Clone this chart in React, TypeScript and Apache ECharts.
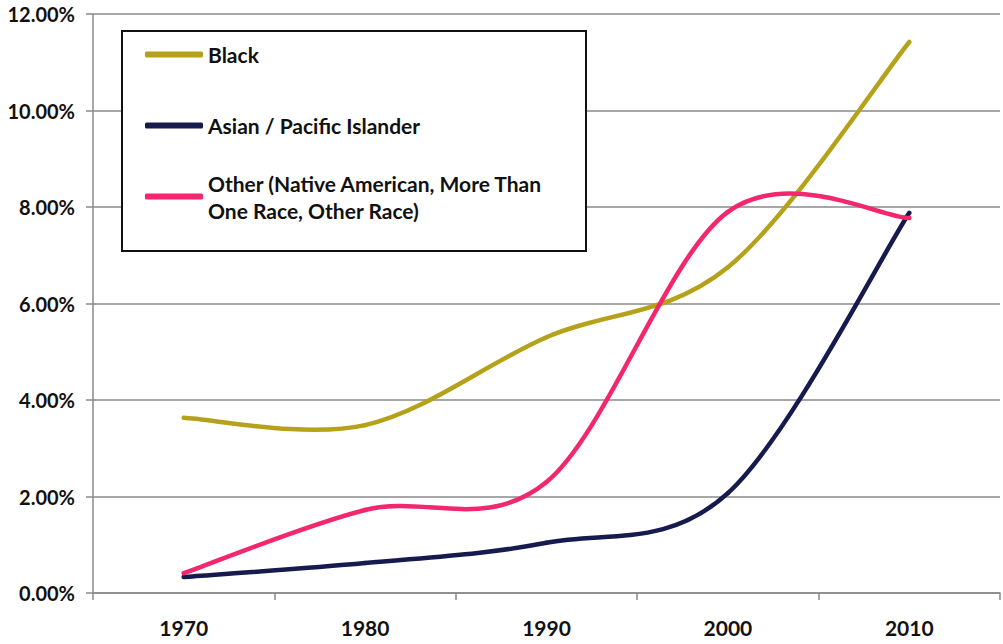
import React, { useEffect, useRef } from "react";
import * as echarts from "echarts";

const years = ["1970", "1980", "1990", "2000", "2010"];
const blackValues = [3.63, 3.48, 5.3, 6.75, 11.42];
const asianValues = [0.33, 0.62, 1.04, 2.07, 7.88];
const otherValues = [0.41, 1.72, 2.3, 7.9, 7.77];

const seriesNames = [
  "Black",
  "Asian / Pacific Islander",
  "Other (Native American, More Than\nOne Race, Other Race)",
];
const seriesColors = ["#B5A21A", "#161A4E", "#F2276D"];

const FONT = "Lato, 'Open Sans', sans-serif";

export default function App() {
  const ref = useRef<HTMLDivElement>(null);

  useEffect(() => {
    if (!ref.current) return;
    const chart = echarts.init(ref.current, null, { renderer: "svg" });
    const values = [blackValues, asianValues, otherValues];

    const legendText = {
      fontFamily: FONT,
      fontWeight: "bold" as const,
      fontSize: 21,
      color: "#111",
      lineHeight: 27,
    };
    const mkLegend = (idx: number, top: number, extra: any = {}) => ({
      show: true,
      orient: "vertical",
      left: 145,
      top,
      padding: 0,
      itemWidth: 58,
      itemHeight: 6,
      itemGap: 0,
      icon: "roundRect",
      selectedMode: false,
      z: 5,
      data: [{ name: seriesNames[idx], textStyle: { ...legendText, ...extra } }],
      textStyle: legendText,
    });

    // Excel-like smoothed segment (Catmull-Rom as cubic Bezier) between data points
    const makeRenderItem = (s: number) => (params: any, api: any) => {
      const d = values[s];
      const i = params.dataIndex;
      if (i >= d.length - 1) return null;
      const clampIdx = (k: number) => Math.max(0, Math.min(d.length - 1, k));
      const pt = (k: number) => {
        const c = clampIdx(k);
        return api.coord([c, d[c]]);
      };
      const p0 = pt(i - 1);
      const p1 = pt(i);
      const p2 = pt(i + 1);
      const p3 = pt(i + 2);
      return {
        type: "bezierCurve",
        shape: {
          x1: p1[0],
          y1: p1[1],
          cpx1: p1[0] + (p2[0] - p0[0]) / 6,
          cpy1: p1[1] + (p2[1] - p0[1]) / 6,
          cpx2: p2[0] - (p3[0] - p1[0]) / 6,
          cpy2: p2[1] - (p3[1] - p1[1]) / 6,
          x2: p2[0],
          y2: p2[1],
        },
        style: {
          fill: null,
          stroke: seriesColors[s],
          lineWidth: 4.5,
          lineCap: "round",
          lineJoin: "round",
        },
      };
    };

    chart.setOption({
      animation: false,
      backgroundColor: "#ffffff",
      grid: {
        left: 93,
        right: 3,
        top: 14,
        bottom: 51,
        containLabel: false,
        outerBoundsMode: "none",
      },
      xAxis: {
        type: "category",
        data: years,
        boundaryGap: true,
        axisLine: { lineStyle: { color: "#8a8a8a", width: 1.5 } },
        axisTick: { show: true, length: 7, lineStyle: { color: "#8a8a8a", width: 1.5 } },
        axisLabel: {
          margin: 24,
          fontFamily: FONT,
          fontWeight: "bold",
          fontSize: 21,
          color: "#111",
        },
        splitLine: { show: false },
      },
      yAxis: {
        type: "value",
        min: 0,
        max: 12,
        interval: 2,
        axisLine: { show: true, lineStyle: { color: "#8a8a8a", width: 1.5 } },
        axisTick: { show: true, length: 7, lineStyle: { color: "#8a8a8a", width: 1.5 } },
        axisLabel: {
          margin: 18,
          fontFamily: FONT,
          fontWeight: "bold",
          fontSize: 20,
          color: "#111",
          formatter: (v: number) => v.toFixed(2) + "%",
        },
        splitLine: { show: true, lineStyle: { color: "#8a8a8a", width: 1.5 } },
      },
      legend: [
        mkLegend(0, 41),
        mkLegend(1, 112),
        mkLegend(2, 156, { padding: [27, 0, 0, 0] }),
      ],
      graphic: [
        {
          type: "rect",
          z: 1,
          shape: { x: 122, y: 31, width: 464, height: 220 },
          style: { fill: "#ffffff", stroke: "#111", lineWidth: 2 },
        },
      ],
      series: values.map((d, i) => ({
        name: seriesNames[i],
        type: "custom",
        coordinateSystem: "cartesian2d",
        data: d.map((v, k) => [k, v]),
        encode: { x: 0, y: 1 },
        renderItem: makeRenderItem(i),
        color: seriesColors[i],
        itemStyle: { color: seriesColors[i] },
        clip: false,
        z: 2 + i,
      })),
    });

    return () => chart.dispose();
  }, []);

  return (
    <div
      ref={ref}
      style={{ position: "fixed", left: 0, top: 0, width: 1003, height: 644 }}
    />
  );
}
